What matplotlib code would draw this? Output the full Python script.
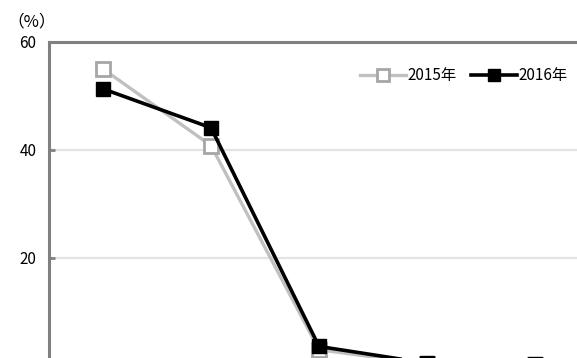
import matplotlib.pyplot as plt
import numpy as np

plt.rcParams['font.family'] = ['Noto Sans CJK JP', 'DejaVu Sans']

# 系列データ
categories = ['A', 'B', 'C', 'D', 'E']
values_2015 = [55.0, 40.8, 3.0, 0.3, 0.2]
values_2016 = [51.3, 44.1, 3.6, 0.5, 0.3]
yticks = [20, 40, 60]

fig = plt.figure(figsize=(5.77, 3.58), dpi=100)
ax = fig.add_axes([0.0849, -0.022, 0.936, 0.905])

x = np.arange(len(categories))
ax.plot(x, values_2015, color='#c0c0c0', lw=2.4, marker='s', ms=10,
        mfc='white', mec='#a6a6a6', mew=2, label='2015年', clip_on=False, zorder=3)
ax.plot(x, values_2016, color='black', lw=2.6, marker='s', ms=10,
        mfc='black', mec='black', label='2016年', clip_on=False, zorder=4)

ax.set_xlim(-0.5, 4.5)
ax.set_ylim(0, 60)
ax.set_yticks(yticks)
ax.set_xticks([])
ax.grid(axis='y', color='#e3e3e3', lw=1.6)
ax.set_axisbelow(True)

for side in ['right', 'bottom']:
    ax.spines[side].set_visible(False)
for side in ['left', 'top']:
    ax.spines[side].set_color('#808080')
    ax.spines[side].set_linewidth(2.2)

ax.tick_params(axis='y', direction='in', length=4, width=2, color='#808080',
               labelsize=11, pad=9)

fig.text(0.012, 0.94, '（%）', fontsize=12, ha='left', va='center')

leg = ax.legend(loc='upper right', bbox_to_anchor=(0.985, 0.965), ncol=2,
                frameon=False, fontsize=11, handlelength=3.0,
                handletextpad=0.05, columnspacing=1.0, markerscale=0.8)

fig.savefig('out.png', dpi=100)
